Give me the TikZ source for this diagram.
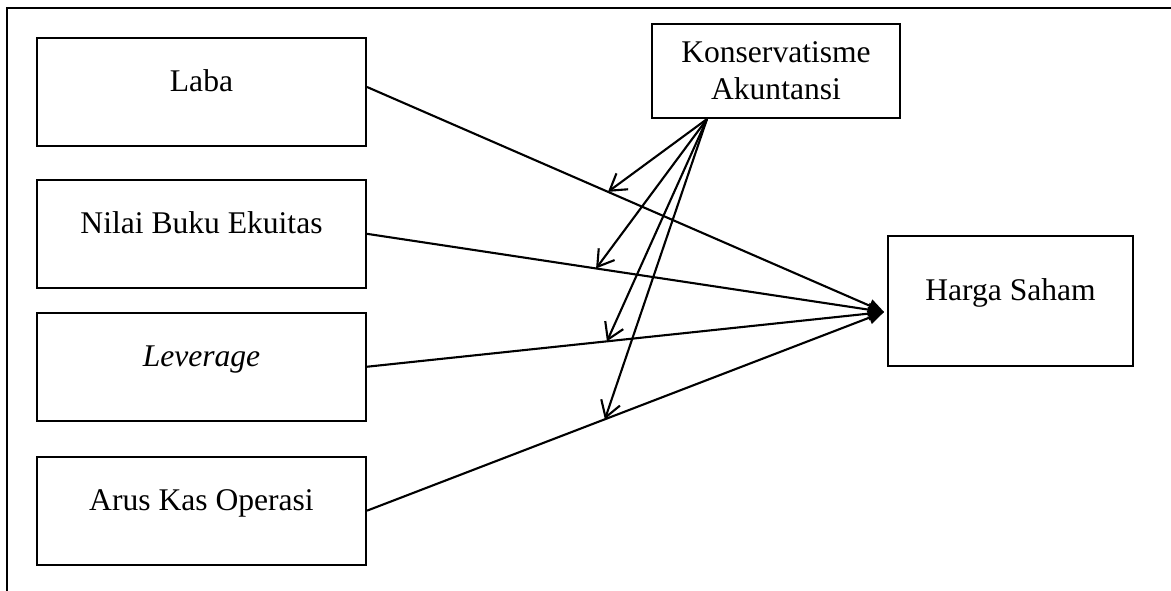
\documentclass[tikz,border=0pt]{standalone}
\usepackage{fontspec}
\setmainfont{Liberation Serif}
\usetikzlibrary{arrows.meta, positioning, calc}

\begin{document}
\begin{tikzpicture}[
    x=0.38pt, y=-0.38pt,
    every node/.style={font=\fontsize{12}{14}\selectfont},
    var/.style={draw, line width=0.8pt, minimum width=125pt, minimum height=41pt, text height=6pt, text depth=6pt, inner sep=0pt},
    mod/.style={draw, line width=0.8pt, minimum width=94pt, minimum height=35.7pt, align=center, inner sep=2pt},
    arrow/.style={-{Triangle[length=6pt, width=5pt]}, line width=0.8pt},
    modarrow/.style={-{Straight Barb[length=6pt, width=7.5pt]}, line width=0.8pt}
]
    \useasboundingbox (0,0) rectangle (1171,591);

    % frame of the page
    \draw[line width=0.8pt] (7,591) -- (7,8) -- (1171,8);

    % independent variables
    \node[var] (laba) at (201.5,92) {Laba};
    \node[var, below=12.1pt of laba] (nbe) {Nilai Buku Ekuitas};
    \node[var, below=8.7pt of nbe] (lev) {\textit{Leverage}};
    \node[var, below=12.9pt of lev] (ako) {Arus Kas Operasi};

    % moderating and dependent variable
    \node[mod] (kons) at (776,71) {Konservatisme\\Akuntansi};
    \node[var, minimum width=93pt, minimum height=49.5pt] (harga) at (1010.5,301) {Harga Saham};

    \coordinate (hin) at ($(harga.west)+(-3,11)$);
    \coordinate (kout) at ($(kons.south)+(-69,0)$);

    % Arrows
    \draw[arrow] ($(laba.east)+(0,-5)$) -- coordinate[pos=0.466] (m1) (hin);
    \draw[arrow] (nbe.east) -- coordinate[pos=0.443] (m2) (hin);
    \draw[arrow] (lev.east) -- coordinate[pos=0.464] (m3) (hin);
    \draw[arrow] (ako.east) -- coordinate[pos=0.46] (m4) (hin);

    \draw[modarrow] (kout) -- (m1);
    \draw[modarrow] (kout) -- (m2);
    \draw[modarrow] (kout) -- (m3);
    \draw[modarrow] (kout) -- (m4);
\end{tikzpicture}
\end{document}
